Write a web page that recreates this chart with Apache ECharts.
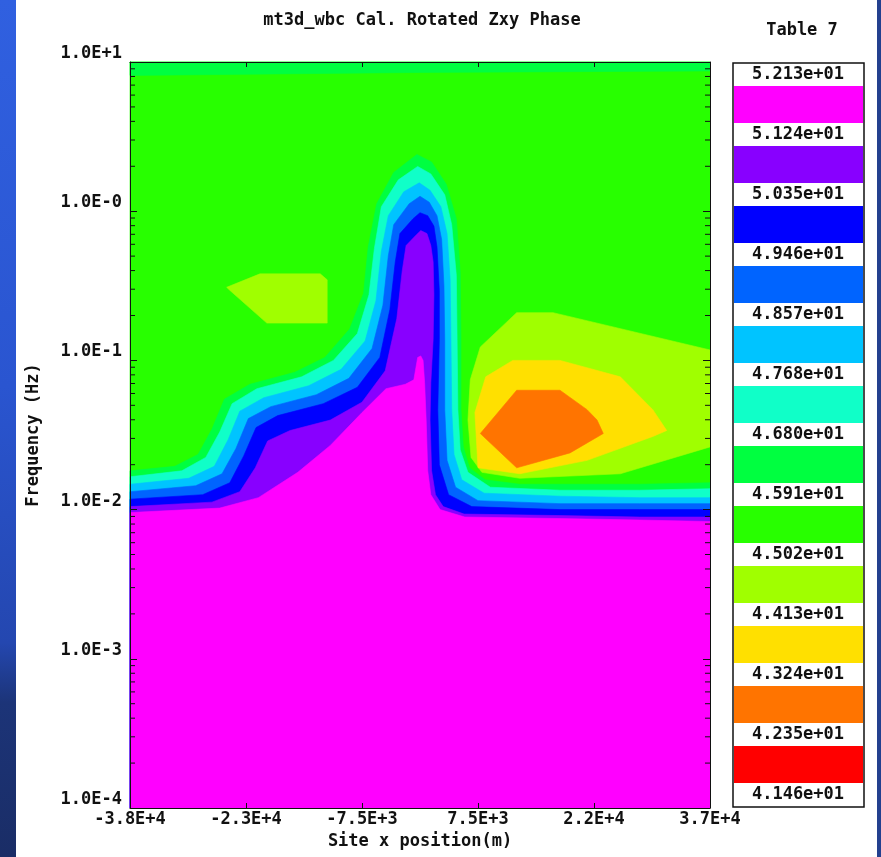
<!DOCTYPE html>
<html>
<head>
<meta charset="utf-8">
<title>mt3d_wbc Cal. Rotated Zxy Phase</title>
<script src="https://cdn.jsdelivr.net/npm/echarts@6/dist/echarts.min.js"></script>
<style>
  html, body { margin: 0; padding: 0; background: #fff; }
  #main { width: 881px; height: 857px; }
</style>
</head>
<body>
<div id="main"></div>
<script>
// axes
const xMin = -37500
const xMax = 37500
const xStep = 15000
const xTickLabels = ['-3.8E+4', '-2.3E+4', '-7.5E+3', '7.5E+3', '2.2E+4', '3.7E+4']
// y is log10 of frequency (Hz), -4 .. 1
const yTickLabels = ['1.0E-4', '1.0E-3', '1.0E-2', '1.0E-1', '1.0E-0', '1.0E+1']

// legend (phase in degrees), top to bottom, and the colour of each band
const levelLabels = ['5.213e+01', '5.124e+01', '5.035e+01', '4.946e+01', '4.857e+01', '4.768e+01',
  '4.680e+01', '4.591e+01', '4.502e+01', '4.413e+01', '4.324e+01', '4.235e+01', '4.146e+01']
const bandColors = ['#ff00ff', '#8800ff', '#0000ff', '#0064ff', '#00c4ff', '#10ffc8',
  '#00ff40', '#28ff00', '#a0ff00', '#ffe000', '#ff7400', '#ff0000']

// contour outlines: [site x (m), log10 freq]
const fullField = [[-37500, -4], [37500, -4], [37500, 1], [-37500, 1]]
const topStrip4591 = [[-37500, 1], [37500, 1], [37500, 0.94], [0, 0.93], [-37500, 0.91]]
const above4591 = [[-37500, -1.74], [-31700, -1.71], [-28700, -1.63], [-26900, -1.46], [-25300, -1.26], [-22000, -1.16],
  [-16200, -1.08], [-12300, -0.98], [-9100, -0.79], [-7300, -0.55], [-6700, -0.24], [-5600, 0.05], [-3400, 0.26], [-400, 0.38],
  [1500, 0.33], [3400, 0.18], [4700, -0.05], [5200, -0.41], [5300, -0.86], [5300, -1.33], [5600, -1.58], [6400, -1.72],
  [8400, -1.80], [12900, -1.83], [28400, -1.83], [37500, -1.82], [37500, -4], [-37500, -4]]
const above4680 = [[-37500, -1.78], [-30800, -1.74], [-27700, -1.65], [-25900, -1.48], [-24300, -1.29], [-21100, -1.19],
  [-15300, -1.11], [-11200, -1.00], [-8100, -0.82], [-6600, -0.56], [-5900, -0.25], [-5000, 0.03], [-2800, 0.21], [-300, 0.30],
  [1400, 0.25], [3200, 0.11], [4100, -0.09], [4700, -0.43], [4800, -0.86], [4900, -1.33], [5200, -1.60], [6200, -1.75],
  [9100, -1.85], [18100, -1.87], [28400, -1.87], [37500, -1.86], [37500, -4], [-37500, -4]]
const above4768 = [[-37500, -1.83], [-29900, -1.79], [-26600, -1.71], [-24800, -1.53], [-23300, -1.34], [-20200, -1.25],
  [-14400, -1.17], [-10200, -1.06], [-7100, -0.87], [-5700, -0.60], [-5000, -0.27], [-4100, -0.03], [-2100, 0.13], [-100, 0.19],
  [1300, 0.14], [2700, 0.03], [3500, -0.15], [3900, -0.46], [4000, -0.86], [4100, -1.33], [4400, -1.63], [5400, -1.80],
  [8300, -1.89], [18100, -1.91], [28400, -1.92], [37500, -1.92], [37500, -4], [-37500, -4]]
const above4857 = [[-37500, -1.88], [-29000, -1.84], [-25600, -1.76], [-23800, -1.59], [-22200, -1.39], [-19300, -1.31],
  [-13400, -1.23], [-9200, -1.12], [-6200, -0.92], [-4800, -0.63], [-4100, -0.30], [-3400, -0.09], [-1400, 0.05], [0, 0.10],
  [1200, 0.06], [2200, -0.03], [2800, -0.19], [3100, -0.50], [3200, -0.86], [3200, -1.33], [3500, -1.67], [4600, -1.85],
  [7500, -1.94], [18100, -1.96], [28400, -1.96], [37500, -1.96], [37500, -4], [-37500, -4]]
const above4946 = [[-37500, -1.93], [-28100, -1.90], [-24600, -1.82], [-22800, -1.64], [-21200, -1.45], [-18400, -1.37],
  [-12500, -1.29], [-8100, -1.18], [-5200, -0.98], [-3900, -0.66], [-3200, -0.34], [-2600, -0.15], [-900, -0.05], [0, -0.01],
  [1000, -0.03], [1800, -0.10], [2200, -0.24], [2500, -0.53], [2500, -0.86], [2300, -1.33], [2500, -1.70], [3700, -1.90],
  [6700, -1.98], [18100, -2.00], [28400, -2.00], [37500, -2.00], [37500, -4], [-37500, -4]]
const above5035 = [[-37500, -1.98], [-26900, -1.95], [-23300, -1.88], [-21300, -1.72], [-19700, -1.54], [-16800, -1.47],
  [-11600, -1.40], [-7500, -1.28], [-4500, -1.07], [-3000, -0.72], [-2300, -0.40], [-1800, -0.23], [-500, -0.16], [100, -0.13],
  [900, -0.15], [1400, -0.23], [1700, -0.34], [1800, -0.56], [1700, -0.86], [1400, -1.15], [1300, -1.40], [1500, -1.74],
  [2000, -1.90], [3000, -1.98], [5700, -2.03], [18100, -2.04], [28400, -2.05], [37500, -2.05], [37500, -4], [-37500, -4]]
const above5124 = [[-37500, -2.02], [-25900, -1.99], [-20900, -1.92], [-15800, -1.75], [-11600, -1.57], [-7500, -1.35],
  [-4400, -1.19], [-1900, -1.16], [-800, -1.13], [-300, -0.98], [100, -0.97], [400, -1.00], [600, -1.15], [800, -1.40],
  [1000, -1.74], [1400, -1.90], [2600, -2.00], [5800, -2.05], [18100, -2.06], [28400, -2.07], [37500, -2.08],
  [37500, -4], [-37500, -4]]
const below4502a = [[-25000, -0.51], [-20700, -0.42], [-12900, -0.42], [-12000, -0.46], [-12000, -0.75], [-19800, -0.75], [-24600, -0.53]]
const below4502b = [[12500, -0.68], [17200, -0.68], [37500, -0.93], [37500, -1.58], [25900, -1.76], [12900, -1.79],
  [8000, -1.75], [6600, -1.65], [6200, -1.40], [6500, -1.13], [7800, -0.91]]
const below4413 = [[12000, -1.00], [18100, -1.00], [25900, -1.11], [30100, -1.33], [31900, -1.47], [30100, -1.51],
  [21600, -1.67], [12900, -1.76], [7500, -1.72], [7100, -1.35], [8500, -1.11]]
const below4324 = [[12500, -1.20], [18100, -1.20], [21600, -1.33], [22900, -1.40], [23700, -1.49], [19400, -1.62],
  [12500, -1.72], [7800, -1.49]]

// painter's order: [outline, band index]
const drawOrder = [
  [fullField, 7], [topStrip4591, 6], [above4591, 6], [above4680, 5], [above4768, 4], [above4857, 3],
  [above4946, 2], [above5035, 1], [above5124, 0], [below4502a, 8], [below4502b, 8], [below4413, 9], [below4324, 10]
]

// log minor tick positions (2..9 in every decade)
const minorTicks = []
for (let d = -4; d < 1; d++) {
  for (let m = 2; m <= 9; m++) minorTicks.push(d + Math.log10(m))
}

const font = 'DejaVu Sans Mono'
const txt = { fontFamily: font, fontWeight: 'bold', fontSize: 17, color: '#111' }
const frame = { onZero: false, lineStyle: { color: '#111', width: 1 } }

// legend box beside the plot
const legend = [{ type: 'rect', shape: { x: 733, y: 63, width: 131, height: 744 }, style: { fill: '#fff', stroke: '#111', lineWidth: 1.5 } }]
bandColors.forEach((c, i) => {
  legend.push({ type: 'rect', shape: { x: 734, y: 86 + 60 * i, width: 129, height: 37 }, style: { fill: c } })
})
levelLabels.forEach((t, i) => {
  legend.push({
    type: 'text', x: 798, y: 75 + 60 * i,
    style: { text: t, fontFamily: font, fontWeight: 'bold', fontSize: 17, fill: '#111',
      align: 'center', verticalAlign: 'middle', textAlign: 'center', textVerticalAlign: 'middle' }
  })
})

const chart = echarts.init(document.getElementById('main'))
chart.setOption({
  animation: false,
  backgroundColor: '#fff',
  title: [{
    text: 'mt3d_wbc Cal. Rotated Zxy Phase',
    left: 417, top: 7, textAlign: 'center',
    textStyle: txt
  }, {
    text: 'Table 7',
    left: 797, top: 17, textAlign: 'center',
    textStyle: txt
  }],
  graphic: [{
    type: 'rect', shape: { x: 0, y: 0, width: 16, height: 857 }, silent: true,
    style: { fill: new echarts.graphic.LinearGradient(0, 0, 0, 1, [
      { offset: 0, color: '#3060e0' }, { offset: 0.45, color: '#2a55d0' },
      { offset: 0.75, color: '#2447b0' }, { offset: 0.82, color: '#1c3478' }, { offset: 1, color: '#1a2d66' }]) }
  }, {
    type: 'rect', shape: { x: 877, y: 0, width: 4, height: 857 }, silent: true,
    style: { fill: '#23408f' }
  }, {
    type: 'group', children: legend, silent: true
  }],
  grid: { left: 130, top: 62, width: 580, height: 746 },
  xAxis: [{
    type: 'value', min: xMin, max: xMax, interval: xStep, position: 'bottom', z: 5,
    name: 'Site x position(m)', nameLocation: 'middle', nameGap: 21, nameTextStyle: txt,
    axisLine: frame,
    axisTick: { inside: true, length: 5, lineStyle: { color: '#111' } },
    axisLabel: { ...txt, margin: 3, formatter: v => xTickLabels[Math.round((v - xMin) / xStep)] },
    splitLine: { show: false }
  }, {
    type: 'value', min: xMin, max: xMax, interval: xStep, position: 'top', z: 5,
    axisLine: frame,
    axisTick: { inside: true, length: 5, lineStyle: { color: '#111' } },
    axisLabel: { show: false },
    splitLine: { show: false }
  }],
  yAxis: [{
    type: 'value', min: -4, max: 1, interval: 1, position: 'left', z: 5,
    name: 'Frequency (Hz)', nameLocation: 'middle', nameRotate: 90, nameGap: 88, nameTextStyle: txt,
    axisLine: frame,
    axisTick: { inside: true, length: 7, lineStyle: { color: '#111' } },
    axisLabel: { ...txt, margin: 8, verticalAlign: 'bottom', formatter: v => yTickLabels[Math.round(v + 4)] },
    splitLine: { show: false }
  }, {
    type: 'value', min: -4, max: 1, interval: 1, position: 'right', z: 5,
    axisLine: frame,
    axisTick: { inside: true, length: 7, lineStyle: { color: '#111' } },
    axisLabel: { show: false },
    splitLine: { show: false }
  }],
  series: [{
    name: 'Rotated Zxy Phase',
    type: 'custom',
    silent: true,
    data: drawOrder.map(() => [0, 0]),
    renderItem: (params, api) => {
      const [outline, band] = drawOrder[params.dataIndex]
      const c = bandColors[band]
      return {
        type: 'polygon',
        shape: { points: outline.map(p => api.coord(p)) },
        style: { fill: c, stroke: c, lineWidth: 0.6 }
      }
    }
  }, {
    name: 'minor ticks',
    type: 'custom',
    silent: true,
    z: 4,
    data: minorTicks.map(v => [0, v]),
    renderItem: (params, api) => {
      const l = api.coord([xMin, api.value(1)])
      const r = api.coord([xMax, api.value(1)])
      const st = { stroke: '#111', lineWidth: 1 }
      return {
        type: 'group',
        children: [
          { type: 'line', shape: { x1: l[0], y1: l[1], x2: l[0] + 5, y2: l[1] }, style: st },
          { type: 'line', shape: { x1: r[0] - 5, y1: r[1], x2: r[0], y2: r[1] }, style: st }
        ]
      }
    }
  }]
})
</script>
</body>
</html>
